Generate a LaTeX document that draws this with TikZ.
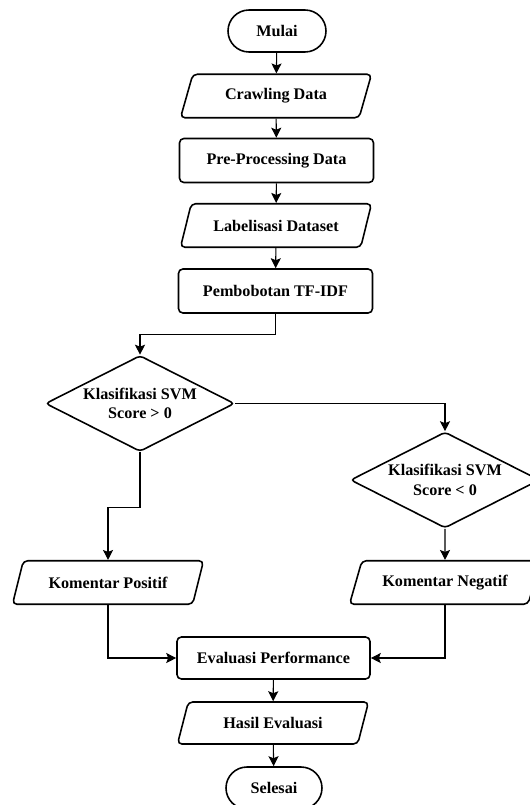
\documentclass[tikz,border=0pt]{standalone}
\usepackage{fontspec}
\setmainfont{Liberation Serif}
\usepackage{tikz}
\usetikzlibrary{positioning}
\usetikzlibrary{shapes,arrows.meta}

\begin{document}
\begin{tikzpicture}[>={Stealth[length=2mm,width=2mm,inset=0.4mm]},
  every node/.style={font=\fontsize{9.2}{11}\selectfont\bfseries},
  terminal/.style={draw,line width=0.9pt,rounded corners=0.42cm,minimum width=1.96cm,minimum height=0.84cm},
  proses/.style={draw,line width=0.9pt,rounded corners=2.5pt,minimum width=3.88cm,minimum height=0.88cm},
  datadata/.style={draw,line width=0.9pt,trapezium,trapezium left angle=65,trapezium right angle=115,trapezium stretches body,rounded corners=2.5pt,minimum width=3.82cm,minimum height=0.87cm,inner xsep=1pt},
  keputusan/.style={draw,line width=0.9pt,diamond,aspect=1.95,rounded corners=2pt,inner sep=0pt,minimum width=3.78cm,minimum height=1.92cm,align=center},
  garis/.style={line width=0.6pt}]

\useasboundingbox (0,0) rectangle (10.58,-16.1);

\node[terminal] (mulai) at (5.54,-0.62) {Mulai};
\node[datadata] (crawling) at (5.52,-1.92) {Crawling Data};
\node[proses] (preproc) at (5.53,-3.21) {Pre-Processing Data};
\node[datadata] (labelisasi) at (5.52,-4.51) {Labelisasi Dataset};
\node[proses] (pembobotan) at (5.51,-5.82) {Pembobotan TF-IDF};

\node[keputusan] (svmpos) at (2.8,-8.07) {Klasifikasi SVM \\ Score > 0};
\node[keputusan] (svmneg) at (8.9,-9.6) {Klasifikasi SVM \\ Score < 0};

\node[datadata] (positif) at (2.16,-11.65) {Komentar Positif};
\node[datadata] (negatif) at (8.9,-11.65) {Komentar Negatif};

\node[proses,minimum width=3.86cm,minimum height=0.84cm] (evaluasi) at (5.47,-13.16) {Evaluasi Performance};
\node[datadata,minimum height=0.84cm] (hasil) at (5.46,-14.46) {Hasil Evaluasi};
\node[terminal,minimum width=1.92cm] (selesai) at (5.48,-15.76) {Selesai};


\draw[garis,->] (mulai) to (crawling);
\draw[garis,->] (crawling) to (preproc);
\draw[garis,->] (preproc) to (labelisasi);
\draw[garis,->] (labelisasi) to (pembobotan);
\draw[garis,->] (pembobotan.south) -- ++(0,-0.42) -| (svmpos.north);
\draw[garis,->] (svmpos.east) -| (svmneg.north);
\draw[garis,->] (svmpos.south) -- ++(0,-1.1) -| (positif.north);
\draw[garis,->] (svmneg) to (negatif);
\draw[garis,->] (positif.south) |- (evaluasi.west);
\draw[garis,->] (negatif.south) |- (evaluasi.east);
\draw[garis,->] (evaluasi) to (hasil);
\draw[garis,->] (hasil) to (selesai);

\end{tikzpicture}
\end{document}
